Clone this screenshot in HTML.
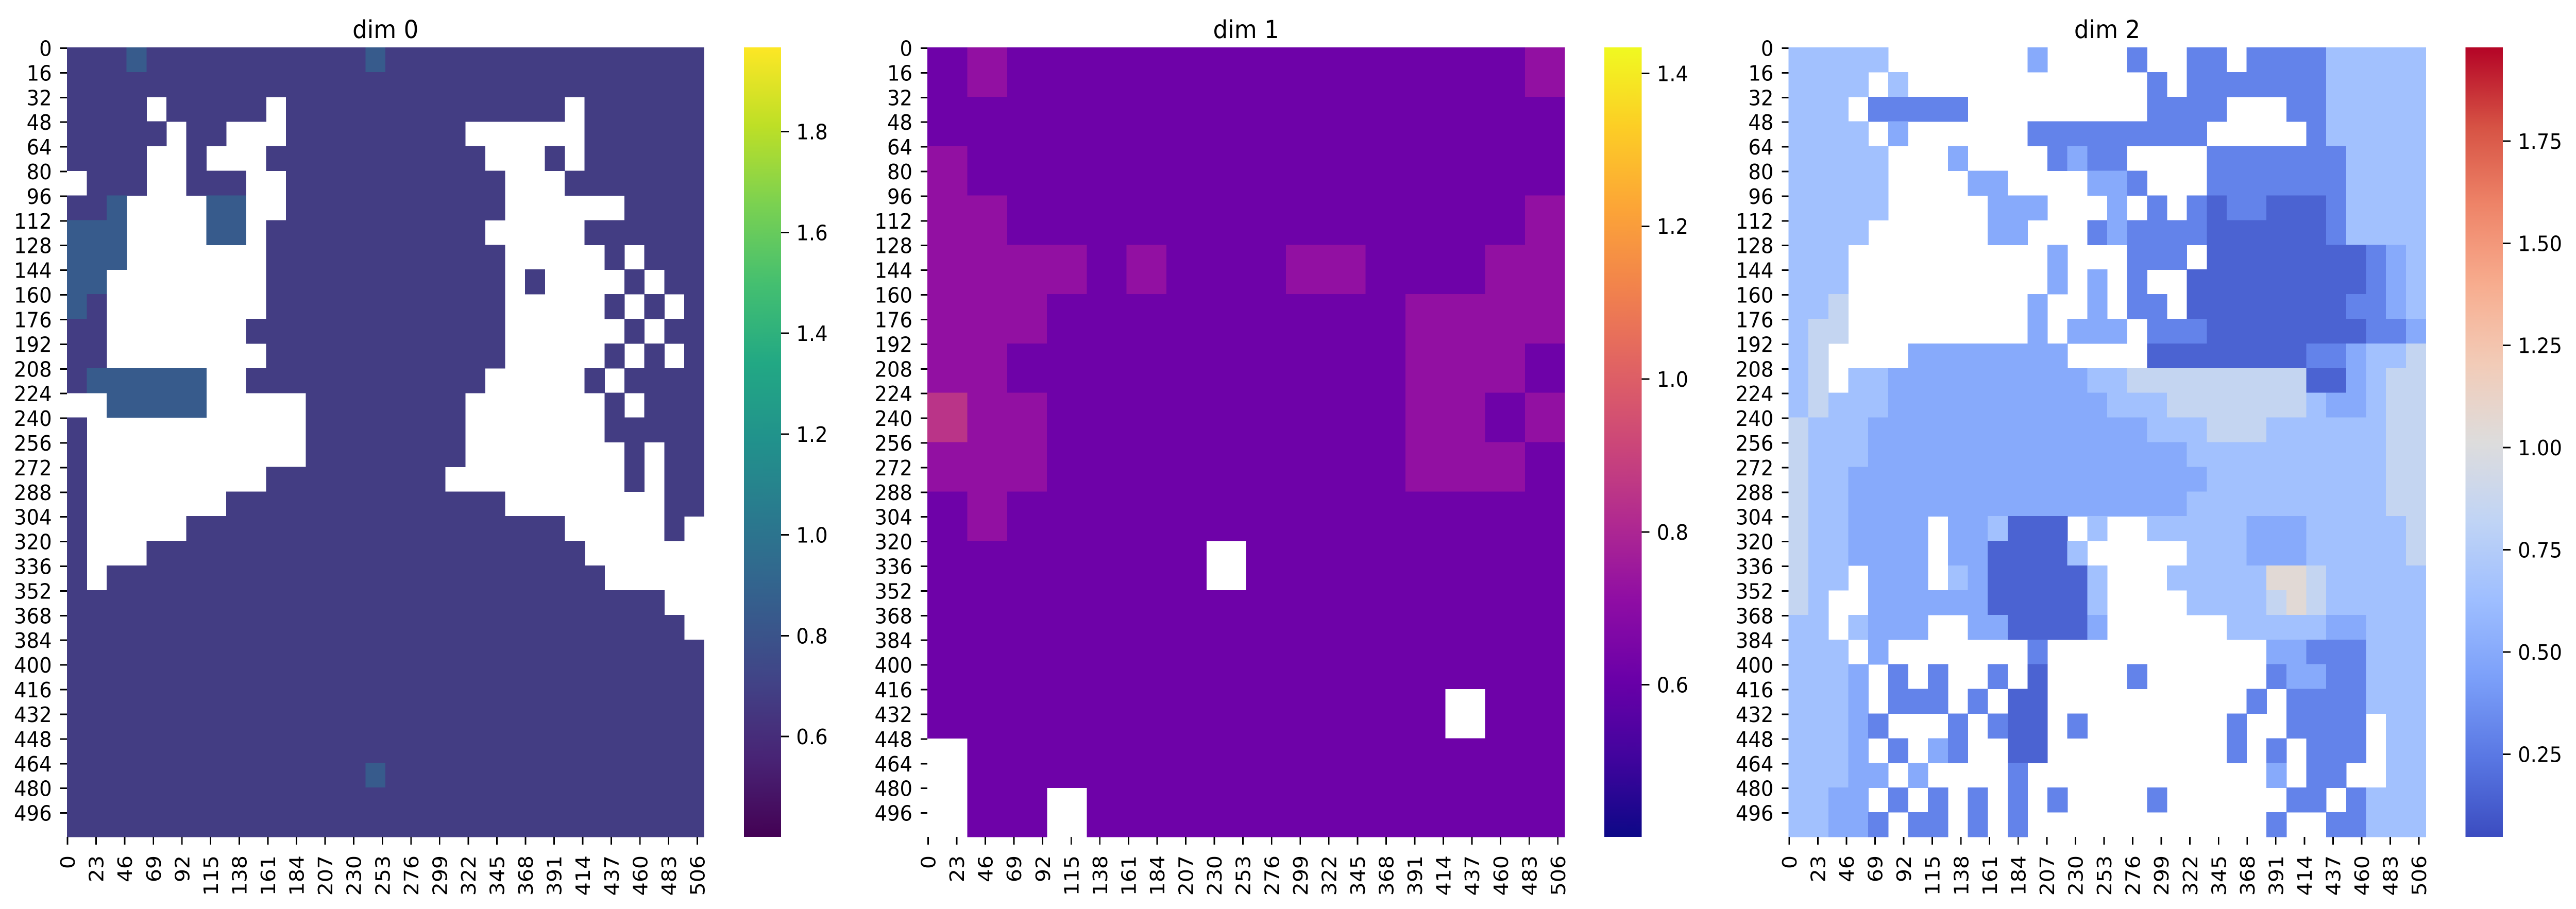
<!DOCTYPE html>
<html><head><meta charset="utf-8"><style>
html,body{margin:0;padding:0;background:#fff;overflow:hidden;width:100vw;height:100vh}
svg{display:block;width:100vw;height:100vh}
text{font-family:"DejaVu Sans","Liberation Sans",sans-serif;fill:#000}
</style></head><body>
<svg id="fig" viewBox="0 0 5316 1765" preserveAspectRatio="none" xmlns="http://www.w3.org/2000/svg" shape-rendering="crispEdges"></svg>
<script>
// ---------- data (coarse grids; '.' = missing/NaN) ----------
const dim0Levels = {"1":0.6,"2":0.68,"3":0.85,"4":1.0};
const dim0Rows = [
"22232222222222232222222222222222",
"22222222222222222222222222222222",
"2222.22222.22222222222222.222222",
"22222.22...222222222......222222",
"2222..2...22222222222...2.222222",
".222..222..22222222222...2222222",
"223....33..22222222222......2222",
"333....33.22222222222.....222222",
"333.......222222222222.....2.222",
"33........222222222222.2....2.22",
"32........222222222222.....2.2.2",
"22.......2222222222222......2.22",
"22........222222222222.....2.2.2",
"2333333..222222222222.....2.2222",
"..33333.....22222222.......2.222",
"2...........22222222.......22222",
"2...........22222222........2.22",
"2.........222222222.........2.22",
"2.......22222222222222........22",
"2.....2222222222222222222.....2.",
"2...2222222222222222222222......",
"2.2222222222222222222222222.....",
"222222222222222222222222222222..",
"2222222222222222222222222222222.",
"22222222222222222222222222222222",
"22222222222222222222222222222222",
"22222222222222222222222222222222",
"22222222222222222222222222222222",
"22222222222222222222222222222222",
"22222222222222232222222222222222",
"22222222222222222222222222222222",
"22222222222222222222222222222222"
];
const dim1Levels = {"0":0.5,"1":0.62,"2":0.72,"3":0.85};
const dim1Rows = [
"1211111111111112",
"1111111111111111",
"2111111111111111",
"2211111111111112",
"2222121112211122",
"2221111111112222",
"2211111111112221",
"3221111111112212",
"2221111111112221",
"1211111111111111",
"1111111.11111111",
"1111111111111111",
"1111111111111111",
"1111111111111.11",
".111111111111111",
".11.111111111111"
];
const dim2Levels = {"0":0.15,"1":0.3,"2":0.5,"3":0.65,"4":0.85,"5":1.05,"6":1.25};
const dim2Rows = [
"33333.......2....1..11.111133333",
"3333.3............1.111111133333",
"333.11111.........1111...1133333",
"3333.2......111111111.....133333",
"33333...2....1211....11111113333",
"33333....22....221...11111113333",
"33333.....222...2.1.101100013333",
"3333......22...12111100000013333",
"333..........2...111.00000000123",
"333..........2.2.1..000000000123",
"334.........2..2.11.000000001123",
"344.........2.222.11100000000112",
"34....22222222....00000000112334",
"34.33222222222233444444444002344",
"34333222222222223334444444322344",
"43332222222222222233344433333344",
"43332222222222222222333333333344",
"43322222222222222222233333333344",
"43322222222222222222333333333344",
"4332222.223000.3..33333222333334",
"4332222.2200003.....333222333334",
"433.222.32000003...3333355433333",
"43..222222000003....333345433333",
"33.3222..2200002......3333322333",
"333.2.......1...........22111333",
"3332.1.1..1.0....1......12211333",
"3332.111.1.00..........1.1111333",
"33321...1.100.1.......1..1111.33",
"3332.1.21..00.........1.1.111.33",
"33322.2....1............2.11..33",
"3322.1.1.1.1.1....1......11.1333",
"33221.11.1.1............1..11333"
];
// axis tick labels
const yTickLabels = [0,16,32,48,64,80,96,112,128,144,160,176,192,208,224,240,256,272,288,304,320,336,352,368,384,400,416,432,448,464,480,496];
const xTickLabels = [0,23,46,69,92,115,138,161,184,207,230,253,276,299,322,345,368,391,414,437,460,483,506];
const nCells = 512;
const dim0Ticks = [0.6,0.8,1.0,1.2,1.4,1.6,1.8];
const dim1Ticks = [0.6,0.8,1.0,1.2,1.4];
const dim2Ticks = [0.25,0.50,0.75,1.00,1.25,1.50,1.75];
const dim0Range = [0.401,1.967];
const dim1Range = [0.401,1.434];
const dim2Range = [0.048,1.979];
const titles = ["dim 0","dim 1","dim 2"];

// ---------- colormaps ----------
const CMAPS = {
viridis:["#440154","#482475","#414487","#355f8d","#2a788e","#21918c","#22a884","#44bf70","#7ad151","#bddf26","#fde725"],
plasma:["#0d0887","#41049d","#6a00a8","#8f0da4","#b12a90","#cc4778","#e16462","#f2844b","#fca636","#fcce25","#f0f921"],
coolwarm:["#3b4cc0","#5977e3","#7b9ff9","#9ebeff","#c0d4f5","#dddcdc","#f2cbb7","#f7ac8e","#ee8468","#d65244","#b40426"]
};
function hex(h){return [parseInt(h.substr(1,2),16),parseInt(h.substr(3,2),16),parseInt(h.substr(5,2),16)];}
function cmap(name,t){
  t=Math.max(0,Math.min(1,t));
  const s=CMAPS[name],p=t*(s.length-1),i=Math.min(s.length-2,Math.floor(p)),f=p-i;
  const a=hex(s[i]),b=hex(s[i+1]);
  return "rgb("+a.map((v,k)=>Math.round(v+(b[k]-v)*f)).join(",")+")";
}

// ---------- layout ----------
const NS="http://www.w3.org/2000/svg";
const svg=document.getElementById("fig");
const TOP=92, BOT=1625, PW=1315, PH=BOT-TOP, FS=41;
const panels=[
 {left:138, cb:1535, rows:dim0Rows, levels:dim0Levels, range:dim0Range, ticks:dim0Ticks, cm:"viridis", dec:1},
 {left:1914, cb:3311, rows:dim1Rows, levels:dim1Levels, range:dim1Range, ticks:dim1Ticks, cm:"plasma", dec:1},
 {left:3691, cb:5088, rows:dim2Rows, levels:dim2Levels, range:dim2Range, ticks:dim2Ticks, cm:"coolwarm", dec:2}
];
function mk(tag,attrs,parent){const e=document.createElementNS(NS,tag);for(const k in attrs)e.setAttribute(k,attrs[k]);(parent||svg).appendChild(e);return e;}

panels.forEach((P,pi)=>{
  const g=mk("g",{});
  
  
  const nr=P.rows.length, nc=P.rows[0].length;
  const xScale=c=>P.left+c*PW/nc, yScale=r=>TOP+r*PH/nr;
  const cScale=v=>(v-P.range[0])/(P.range[1]-P.range[0]);
  for(let r=0;r<nr;r++){
    for(let c=0;c<nc;c++){
      const ch=P.rows[r][c];
      if(ch===undefined||ch==="."||P.levels[ch]===undefined) continue;
      const x0=xScale(c),x1=xScale(c+1),y0=yScale(r),y1=yScale(r+1);
      const rect=mk("rect",{x:x0.toFixed(2),y:y0.toFixed(2),width:(x1-x0+0.6).toFixed(2),height:(y1-y0+0.6).toFixed(2),fill:cmap(P.cm,cScale(P.levels[ch]))},g);
      
      
    }
  }
  const t=mk("text",{x:P.left+PW/2,y:74,"text-anchor":"middle","font-size":"48"});
  t.textContent=titles[pi];
  
  
  const ya=mk("g",{});
  
  
  yTickLabels.forEach(v=>{
    const y=TOP+(v+0.5)*PH/nCells;
    mk("line",{x1:P.left-14,x2:P.left,y1:y,y2:y,stroke:"#000","stroke-width":"3"},ya);
    const tx=mk("text",{x:P.left-31,y:y+15,"text-anchor":"end","font-size":FS},ya);
    tx.textContent=v;
    
    
  });
  const xa=mk("g",{});
  
  
  xTickLabels.forEach(v=>{
    const x=P.left+(v+0.5)*PW/nCells;
    mk("line",{x1:x,x2:x,y1:BOT,y2:BOT+15,stroke:"#000","stroke-width":"3"},xa);
    const tx=mk("text",{x:0,y:0,"text-anchor":"end","font-size":FS,transform:"translate("+(x+15)+","+(BOT+36)+") rotate(-90)"},xa);
    tx.textContent=v;
    
    
  });
  const cbg=mk("g",{});
  
  
  const gid="grad"+pi;
  const defs=mk("defs",{},cbg);
  const lg=mk("linearGradient",{id:gid,x1:"0",y1:"1",x2:"0",y2:"0"},defs);
  for(let k=0;k<=20;k++){mk("stop",{offset:(k/20),"stop-color":cmap(P.cm,k/20)},lg);}
  mk("rect",{x:P.cb,y:TOP,width:77,height:PH,fill:"url(#"+gid+")"},cbg);
  P.ticks.forEach(v=>{
    const y=BOT-cScale(v)*PH;
    mk("line",{x1:P.cb+77,x2:P.cb+93,y1:y,y2:y,stroke:"#000","stroke-width":"3"},cbg);
    const tx=mk("text",{x:P.cb+108,y:y+15,"font-size":FS},cbg);
    tx.textContent=v.toFixed(P.dec);
    
    
  });
});
</script>
</body></html>
